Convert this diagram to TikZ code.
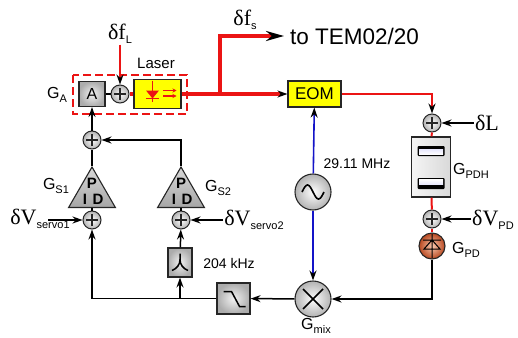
\documentclass[tikz,border=0pt]{standalone}
\usepackage{fontspec}
\setmainfont{Liberation Sans}
\newfontfamily\greekserif{Liberation Serif}
\usetikzlibrary{arrows.meta,shapes.geometric}
\definecolor{laserred}{RGB}{235,20,20}
\definecolor{laseryellow}{RGB}{255,255,0}
\definecolor{rfblue}{RGB}{20,20,200}
\definecolor{pdbrown}{RGB}{184,72,32}
\definecolor{pdlight}{RGB}{248,200,175}
\newcommand{\lowidx}[1]{\raisebox{-3.5pt}{\fontsize{11}{11}\selectfont #1}}

\tikzset{
  sig/.style={line width=1.5pt},
  redthick/.style={draw=laserred, line width=3.5pt},
  redthin/.style={draw=laserred, line width=2pt},
  blueline/.style={draw=rfblue, line width=1.6pt},
  sumnode/.style={circle, draw=black!85, line width=1pt, minimum size=18pt, inner sep=0pt,
    inner color=white, outer color=gray!60,
    path picture={\draw[line width=1.2pt]
      ([xshift=-6pt]path picture bounding box.center) -- ([xshift=6pt]path picture bounding box.center)
      ([yshift=-6pt]path picture bounding box.center) -- ([yshift=6pt]path picture bounding box.center);}},
  graybox/.style={rectangle, draw=black!85, line width=1.1pt, inner color=gray!10, outer color=gray!65,
    inner sep=0pt, font=\fontsize{16}{16}\selectfont},
  yellowbox/.style={rectangle, draw=black!85, line width=1.1pt, fill=laseryellow, inner sep=0pt,
    font=\fontsize{17}{17}\selectfont},
  ballnode/.style={circle, draw=black!85, line width=1.1pt, inner color=white, outer color=gray!60,
    minimum size=36pt, inner sep=0pt},
  pidnode/.style={regular polygon, regular polygon sides=3, minimum size=54pt, inner sep=0pt,
    draw=black!85, line width=1.1pt, top color=gray!30, bottom color=gray!70},
  pdnode/.style={circle, draw=black!85, line width=1.1pt, inner color=pdlight, outer color=pdbrown,
    minimum size=26pt, inner sep=0pt},
  pdhbox/.style={rectangle, draw=black!85, line width=1.1pt, left color=gray!8, right color=gray!30,
    minimum width=39pt, minimum height=60pt},
  glabel/.style={font=\fontsize{16}{16}\selectfont, inner sep=1pt},
  greek/.style={font=\fontsize{22}{22}\selectfont, inner sep=1pt},
  freq/.style={font=\fontsize{14}{14}\selectfont, inner sep=1pt},
  pidtext/.style={font=\fontsize{15}{15}\selectfont\bfseries, inner sep=0pt},
}

\begin{document}
\begin{tikzpicture}[x=1pt, y=-1pt, >={Stealth[length=10pt,width=7pt,color=black]}]
  \fill[white] (0,0) rectangle (518,337);
  \useasboundingbox (0,0) rectangle (518,337);

  % Laser with actuator
  \node[graybox, minimum width=26pt, minimum height=25pt] (amp) at (92,94) {A};
  \node[sumnode] (sumf) at (120,94) {};
  \node[yellowbox, minimum width=47pt, minimum height=29pt] (laser) at (157.5,94) {};
  \begin{scope}[shift={(laser.center)}]
    \fill[laserred] (-11.5,-3.5) -- (1.5,-3.5) -- (-5,4.5) -- cycle;
    \draw[laserred, line width=1.4pt] (-5,-13.5) -- (-5,8) (-11.5,4.5) -- (1.5,4.5);
    \draw[laserred, line width=1.2pt, -{Stealth[length=4pt,width=4pt]}] (5.5,-3.5) -- (19,-3.5);
    \draw[laserred, line width=1.2pt, -{Stealth[length=4pt,width=4pt]}] (5.5,2) -- (19,2);
  \end{scope}
  \draw[draw=laserred, line width=1.5pt, dash pattern=on 8pt off 4pt] (73,75) rectangle (187,114);
  \node[freq, font=\fontsize{15}{15}\selectfont] (laserlbl) at (156,63) {Laser};
  \node[glabel] (gA) at (57,95) {G\lowidx{A}};
  \node[greek] (dfL) at (120,34) {{\greekserif δf}\lowidx{L}};

  % Modulator and output
  \node[yellowbox, minimum width=53pt, minimum height=26pt] (eom) at (314.5,94) {EOM};
  \coordinate (split) at (220,94);
  \node[anchor=west, font=\fontsize{22.5}{22.5}\selectfont, inner sep=6pt] (tem) at (284,36) {to TEM02/20};
  \node[greek] (dfs) at (245,20) {{\greekserif δf}\lowidx{s}};

  % Cavity and photodiode
  \node[sumnode] (suml) at (432,123) {};
  \node[greek] (dL) at (487,123) {\greekserif δL};
  \node[pdhbox] (pdh) at (431,167) {};
  \begin{scope}[shift={(pdh.center)}]
    \fill[black, rounded corners=1pt] (-13.5,-21) rectangle (13.5,-11);
    \shade[top color=gray!20!blue!10, bottom color=white] (-12,-17.5) rectangle (12,-12.5);
    \fill[black, rounded corners=1pt] (-13.5,11) rectangle (13.5,22);
    \shade[top color=white, bottom color=gray!20!blue!10] (-12,12.5) rectangle (12,17.5);
  \end{scope}
  \node[glabel] (gpdh) at (471,171) {G\lowidx{PDH}};
  \node[sumnode] (sumpd) at (432,219) {};
  \node[greek] (dVpd) at (493,220) {{\greekserif δV}\lowidx{PD}};
  \node[pdnode] (pd) at (432,246) {};
  \begin{scope}[shift={(pd.center)}]
    \draw[line width=1pt] (0,-12) -- (0,12) (-9,-6) -- (9,-6) (0,-6) -- (-8,3) -- (8,3) -- cycle;
  \end{scope}
  \node[glabel] (gpd) at (466,250) {G\lowidx{PD}};

  % Local oscillator and mixer
  \node[ballnode] (osc) at (313,192) {};
  \draw[line width=1.6pt] plot[domain=-1:1, samples=40] ({313+11*\x}, {192+7*sin(180*\x)});
  \node[freq] (fmod) at (357,164) {29.11 MHz};
  \node[ballnode] (mix) at (313,299) {};
  \begin{scope}[shift={(mix.center)}]
    \draw[line width=1.5pt] (-10,-10) -- (10,10) (-10,10) -- (10,-10);
  \end{scope}
  \node[glabel] (gmix) at (316,326) {G\lowidx{mix}};

  % Filters
  \node[graybox, minimum width=33pt, minimum height=31pt] (lp) at (233.5,298.5) {};
  \begin{scope}[shift={(lp.center)}]
    \draw[line width=1.5pt] (-10,-7) -- (-2,-7) -- (6,8) -- (12,8);
  \end{scope}
  \node[graybox, minimum width=24pt, minimum height=29pt] (bp) at (180,262.5) {};
  \begin{scope}[shift={(bp.center)}]
    \draw[line width=1.5pt] (0,-9) -- (0,-3)
      (-8,8) .. controls (-3,6) and (0,2) .. (0,-3) .. controls (0,2) and (3,6) .. (8,8);
  \end{scope}
  \node[freq] (fbp) at (229,263) {204 kHz};

  % Servos
  \node[sumnode] (sums1) at (92,220) {};
  \node[sumnode] (sums2) at (181,220) {};
  \node[pidnode] (pid1) at (92,194) {};
  \node[pidnode] (pid2) at (181,194) {};
  \foreach \n in {pid1,pid2} {
    \node[pidtext] (\n P) at ([yshift=11pt]\n.center) {P};
    \node[pidtext] (\n I) at ([xshift=-7pt,yshift=-5pt]\n.center) {I};
    \node[pidtext] (\n D) at ([xshift=6pt,yshift=-5pt]\n.center) {D};
  }
  \node[sumnode] (sumpid) at (92,140) {};
  \node[glabel] (gs1) at (56,186) {G\lowidx{S1}};
  \node[glabel] (gs2) at (218,188) {G\lowidx{S2}};
  \node[greek] (dVs1) at (40,219) {{\greekserif δV}\lowidx{servo1}};
  \node[greek] (dVs2) at (254,220) {{\greekserif δV}\lowidx{servo2}};
  \coordinate (s1in) at (48,220);

  % Optical path
  \draw[redthin, ->] (dfL) -- (sumf);
  \draw[sig] (amp) -- (sumf);
  \draw[redthick] (sumf) -- (laser);
  \draw[redthick, ->] (laser) -- (eom);
  \draw[redthick, -{Stealth[length=18pt,width=10pt,color=black]}] (split) |- (tem.west);
  \draw[redthin, ->] (eom) -| (suml);
  \draw[redthin] (suml) -- (pdh);
  \draw[redthin] (pdh) -- (sumpd);
  \draw[redthin] (sumpd) -- (pd);
  \draw[sig, ->] (dL.west |- suml) -- (suml);
  \draw[sig, ->] (dVpd.west |- sumpd) -- (sumpd);

  % Demodulation and feedback
  \draw[blueline, ->] (osc) -- (eom);
  \draw[blueline, ->] (osc) -- (mix);
  \draw[sig, ->] (pd) |- (mix);
  \draw[sig, ->] (mix) -- (lp);
  \draw[sig, ->] (lp) -| (sums1);
  \draw[sig, ->] (bp.south |- lp.center) -- (bp);
  \draw[sig, ->] (bp) -- (sums2);
  \draw[sig, ->] (s1in) -- (sums1);
  \draw[sig, ->] (dVs2.west |- sums2) -- (sums2);
  \draw[sig] (sums1) -- (pid1.south);
  \draw[sig] (sums2) -- (pid2.south);
  \draw[sig] (pid1.north) -- (sumpid);
  \draw[sig, ->] (pid2.north) |- (sumpid);
  \draw[sig, ->] (sumpid) -- (amp);
\end{tikzpicture}
\end{document}
